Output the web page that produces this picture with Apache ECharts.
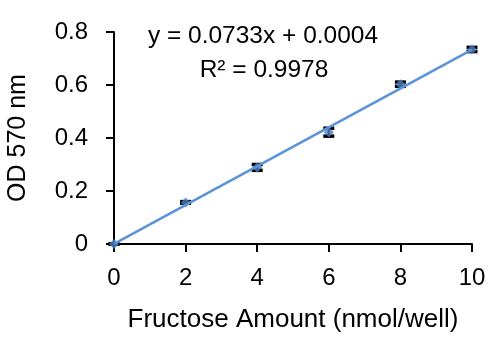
<!DOCTYPE html>
<html>
<head>
<meta charset="utf-8">
<script src="https://cdn.jsdelivr.net/npm/echarts@6/dist/echarts.min.js"></script>
<style>html,body{margin:0;padding:0;background:#fff}#c{width:499px;height:341px}</style>
</head>
<body>
<div id="c"></div>
<script>
var amounts = [0, 2, 4, 6, 8, 10];
var odValues = [0, 0.157, 0.289, 0.422, 0.603, 0.734];
var odErrors = [0, 0.003, 0.011, 0.015, 0.008, 0.008];
var trendX = [0, 10];
var trendY = [0.0004, 0.7334];
var xTicks = [0, 2, 4, 6, 8, 10];
var yTicks = [0, 0.2, 0.4, 0.6, 0.8];
var equationText = 'y = 0.0733x + 0.0004';
var r2Text = 'R² = 0.9978';

var FONT = 'Liberation Sans';
var chart = echarts.init(document.getElementById('c'), null, {renderer: 'canvas'});
var pts = amounts.map(function (x, i) { return [x, odValues[i]]; });
var errData = amounts.map(function (x, i) { return [x, odValues[i] - odErrors[i], odValues[i] + odErrors[i]]; });
var trendData = trendX.map(function (x, i) { return [x, trendY[i]]; });

chart.setOption({
  animation: false,
  grid: {left: 114, right: 27, top: 32, bottom: 97, containLabel: false, outerBoundsMode: 'none'},
  xAxis: {
    type: 'value', min: 0, max: 10, interval: 2,
    name: 'Fructose Amount (nmol/well)', nameLocation: 'middle', nameGap: 63,
    nameTextStyle: {fontFamily: FONT, fontSize: 26, color: '#000'},
    axisLine: {show: true, lineStyle: {color: '#000', width: 2}},
    axisTick: {show: true, inside: false, length: 8, lineStyle: {color: '#000', width: 2}},
    axisLabel: {fontFamily: FONT, fontSize: 24, color: '#000', margin: 22},
    splitLine: {show: false}
  },
  yAxis: {
    type: 'value', min: 0, max: 0.8, interval: 0.2,
    name: 'OD 570 nm', nameLocation: 'middle', nameGap: 83,
    nameTextStyle: {fontFamily: FONT, fontSize: 25, color: '#000'},
    axisLine: {show: true, lineStyle: {color: '#000', width: 2}},
    axisTick: {show: true, inside: false, length: 8, lineStyle: {color: '#000', width: 2}},
    axisLabel: {fontFamily: FONT, fontSize: 24, color: '#000', margin: 26},
    splitLine: {show: false}
  },
  series: [
    {
      type: 'custom', z: 3,
      data: errData,
      renderItem: function (params, api) {
        var x = api.value(0);
        var lo = api.coord([x, api.value(1)]);
        var hi = api.coord([x, api.value(2)]);
        var hw = 5.5;
        var st = {stroke: '#000', lineWidth: 3.5};
        return {type: 'group', children: [
          {type: 'line', shape: {x1: lo[0], y1: lo[1], x2: hi[0], y2: hi[1]}, style: {stroke: '#000', lineWidth: 2}},
          {type: 'line', shape: {x1: lo[0] - hw, y1: lo[1], x2: lo[0] + hw, y2: lo[1]}, style: st},
          {type: 'line', shape: {x1: hi[0] - hw, y1: hi[1], x2: hi[0] + hw, y2: hi[1]}, style: st}
        ]};
      }
    },
    {
      type: 'scatter', z: 4, data: pts,
      symbol: 'diamond', symbolSize: 10,
      itemStyle: {color: '#4A7EBB'}
    },
    {
      type: 'line', z: 5, data: trendData, showSymbol: false, symbol: 'none',
      lineStyle: {color: '#5B93D8', width: 2.5}
    }
  ],
  graphic: [
    {type: 'text', style: {text: equationText, fontFamily: FONT, fontSize: 24.5, fill: '#000', x: 263, y: 36, textAlign: 'center', textVerticalAlign: 'middle'}},
    {type: 'text', style: {text: r2Text, fontFamily: FONT, fontSize: 24.5, fill: '#000', x: 264, y: 70, textAlign: 'center', textVerticalAlign: 'middle'}}
  ]
});
</script>
</body>
</html>
